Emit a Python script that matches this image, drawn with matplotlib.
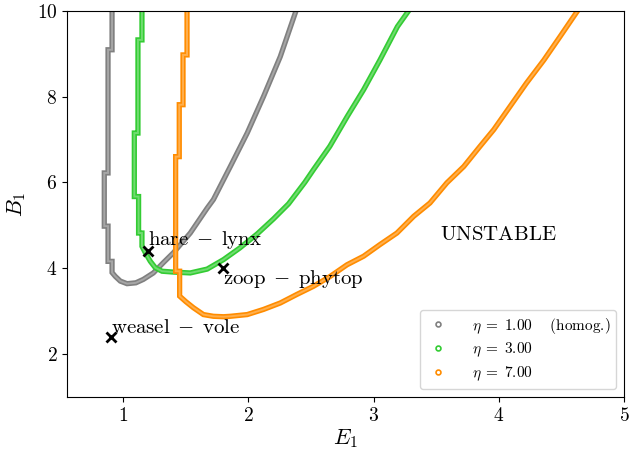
import matplotlib
matplotlib.use("Agg")
import matplotlib.pyplot as plt
import matplotlib.patheffects as pe
from matplotlib.lines import Line2D

plt.rcParams["font.family"] = "serif"
plt.rcParams["font.serif"] = ["cmr10"]
plt.rcParams["mathtext.fontset"] = "cm"
plt.rcParams["axes.formatter.use_mathtext"] = True

GRAY = (0.50, 0.50, 0.50)
GREEN = (0.20, 0.80, 0.20)
ORANGE = (1.00, 0.55, 0.00)

# stability boundaries (E1, B1)
e_eta1 = [0.91, 0.91, 0.878, 0.878, 0.848, 0.848, 0.878, 0.878, 0.91, 0.91,
          0.936, 0.976, 1.03, 1.10, 1.16, 1.24, 1.32, 1.40, 1.535, 1.67,
          1.72, 1.855, 1.99, 2.12, 2.254, 2.38]
b_eta1 = [10.0, 9.09, 9.09, 6.22, 6.22, 4.98, 4.98, 4.16, 4.16, 3.90,
          3.81, 3.70, 3.64, 3.66, 3.74, 3.89, 4.13, 4.36, 4.82, 5.40,
          5.60, 6.37, 7.15, 8.00, 8.93, 10.0]

e_eta3 = [1.149, 1.149, 1.117, 1.117, 1.088, 1.088, 1.122, 1.122, 1.149, 1.149,
          1.176, 1.216, 1.256, 1.31, 1.40, 1.535, 1.67, 1.80, 1.93, 2.07,
          2.20, 2.32, 2.45, 2.52, 2.65, 2.79, 2.92, 3.05, 3.19, 3.28]
b_eta3 = [10.0, 9.32, 9.32, 7.15, 7.15, 5.67, 5.67, 4.82, 4.82, 4.51,
          4.36, 4.16, 4.01, 3.93, 3.91, 3.89, 3.98, 4.20, 4.47, 4.80,
          5.15, 5.50, 6.00, 6.30, 6.84, 7.54, 8.16, 8.85, 9.63, 10.0]

e_eta7 = [1.509, 1.509, 1.477, 1.477, 1.447, 1.447, 1.418, 1.418, 1.45, 1.45,
          1.50, 1.56, 1.64, 1.72, 1.80, 1.855, 1.99, 2.12, 2.254, 2.387,
          2.52, 2.653, 2.787, 2.92, 3.05, 3.186, 3.32, 3.45, 3.585, 3.72,
          3.85, 3.96, 4.09, 4.22, 4.36, 4.49, 4.63]
b_eta7 = [10.0, 8.97, 8.97, 7.81, 7.81, 6.60, 6.60, 3.93, 3.93, 3.35,
          3.22, 3.08, 2.92, 2.88, 2.87, 2.88, 2.92, 3.04, 3.19, 3.39,
          3.58, 3.81, 4.08, 4.28, 4.55, 4.82, 5.21, 5.52, 5.99, 6.37,
          6.84, 7.23, 7.77, 8.31, 8.85, 9.40, 10.0]

curve_labels = [r"$\eta\;=\;1.00\quad$ (homog.)", r"$\eta\;=\;3.00$", r"$\eta\;=\;7.00$"]

# real systems
sys_names = [r"$\mathrm{hare}\;-\;\mathrm{lynx}$", r"$\mathrm{zoop}\;-\;\mathrm{phytop}$",
             r"$\mathrm{weasel}\;-\;\mathrm{vole}$"]
sys_e = [1.2, 1.8, 0.9]
sys_b = [4.4, 4.0, 2.4]
sys_va = ["bottom", "top", "bottom"]


def lighten(c, f=0.3):
    return tuple(v + (1 - v) * f for v in c)


fig = plt.figure(figsize=(6.29, 4.54), dpi=100)
ax = fig.add_axes([0.1065, 0.1256, 0.8855, 0.8508])

curves = [(e_eta1, b_eta1, GRAY), (e_eta3, b_eta3, GREEN), (e_eta7, b_eta7, ORANGE)]
handles = []
for (e, b, col), lab in zip(curves, curve_labels):
    ax.plot(e, b, color=lighten(col), lw=1.4, solid_joinstyle="miter",
            path_effects=[pe.Stroke(linewidth=3.8, foreground=col), pe.Normal()])
    handles.append(Line2D([], [], ls="none", marker="o", ms=3.5, mfc="white",
                          mec=col, mew=1.2, label=lab))

for name, x, y, va in zip(sys_names, sys_e, sys_b, sys_va):
    ax.plot(x, y, marker="x", color="black", ms=7, mew=2, ls="none")
    ax.text(x, y, name, fontsize=15, ha="left", va=va)

ax.text(4.0, 4.78, r"$\mathrm{UNSTABLE}$", fontsize=15, ha="center", va="center")

ax.set_xlim(0.55, 5.0)
ax.set_ylim(1, 10)
ax.set_xticks([1, 2, 3, 4, 5])
ax.set_yticks([2, 4, 6, 8, 10])
ax.tick_params(labelsize=14)
ax.set_xlabel(r"$E_1$", fontsize=16, labelpad=2)
ax.set_ylabel(r"$B_1$", fontsize=16, labelpad=6)

ax.legend(handles=handles, loc="lower right", fontsize=11, handletextpad=1.4,
          handlelength=1.6, borderpad=0.4, labelspacing=0.35)

fig.savefig("out.png", dpi=100)
